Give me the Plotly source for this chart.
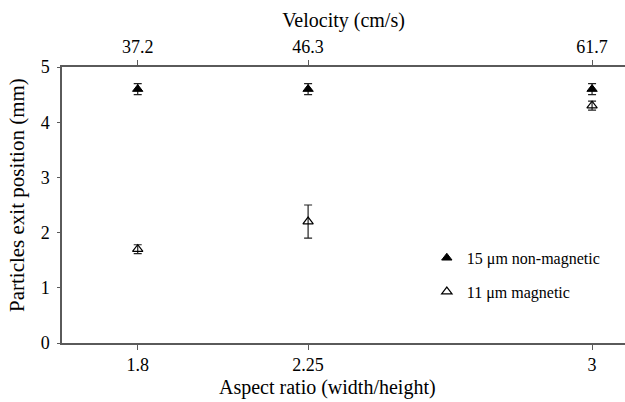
import plotly.graph_objects as go

# Channel aspect ratios and the matching mean flow velocities
aspect_ratio = [1.8, 2.25, 3.0]
aspect_labels = ["1.8", "2.25", "3"]
velocity_labels = ["37.2", "46.3", "61.7"]

# Exit positions (mm) with standard deviations
nonmag_15um = [4.6, 4.6, 4.6]
nonmag_15um_err = [0.1, 0.1, 0.1]
mag_11um = [1.7, 2.2, 4.3]
mag_11um_err = [0.08, 0.3, 0.08]

FONT = "'Liberation Serif', 'Times New Roman', serif"
AXIS_COLOR = "#5a5a5a"

fig = go.Figure()

fig.add_trace(go.Scatter(
    x=aspect_ratio, y=nonmag_15um, mode="markers",
    name="15 μm non-magnetic", legendgroup="a",
    marker=dict(symbol="triangle-up", size=9, color="black",
                line=dict(color="black", width=1)),
    error_y=dict(type="data", array=nonmag_15um_err, color="#222222",
                 thickness=1.2, width=4),
))
fig.add_trace(go.Scatter(
    x=aspect_ratio, y=mag_11um, mode="markers",
    name="11 μm magnetic", legendgroup="b",
    marker=dict(symbol="triangle-up-open", size=9, color="black",
                line=dict(color="black", width=1.2)),
    error_y=dict(type="data", array=mag_11um_err, color="#222222",
                 thickness=1.2, width=4),
))

# Invisible trace carrying the top velocity axis
fig.add_trace(go.Scatter(
    x=aspect_ratio, y=nonmag_15um, xaxis="x2", mode="markers",
    marker=dict(opacity=0), showlegend=False, hoverinfo="skip",
))

x_range = [1.6, 3.087]

fig.update_layout(
    width=625, height=402,
    margin=dict(l=62, r=0, t=67, b=59, autoexpand=False),
    paper_bgcolor="white", plot_bgcolor="white",
    font=dict(family=FONT, size=18, color="black"),
    showlegend=True,
    legend=dict(x=0.648, y=0.37, xanchor="left", yanchor="top",
                bgcolor="rgba(0,0,0,0)", font=dict(family=FONT, size=16),
                tracegroupgap=10, itemwidth=30),
    xaxis=dict(
        range=x_range, tickvals=aspect_ratio, ticktext=aspect_labels,
        showgrid=False, zeroline=False,
        showline=True, linecolor=AXIS_COLOR, linewidth=1.5,
        ticks="outside", ticklen=5, tickcolor=AXIS_COLOR,
        tickfont=dict(family=FONT, size=18),
    ),
    xaxis2=dict(
        range=x_range, overlaying="x", side="top",
        tickvals=aspect_ratio, ticktext=velocity_labels,
        showgrid=False, zeroline=False,
        showline=True, linecolor=AXIS_COLOR, linewidth=1.5,
        ticks="outside", ticklen=5, tickcolor=AXIS_COLOR,
        tickfont=dict(family=FONT, size=18),
        title=dict(text="Velocity (cm/s)",
                   font=dict(family=FONT, size=20), standoff=4),
    ),
    yaxis=dict(
        range=[0, 5], dtick=1, showgrid=False, zeroline=False,
        showline=True, linecolor=AXIS_COLOR, linewidth=1.5,
        ticks="outside", ticklen=3, tickcolor=AXIS_COLOR,
        ticklabelstandoff=4,
        tickfont=dict(family=FONT, size=18),
    ),
    annotations=[
        dict(text="Aspect ratio (width/height)", xref="paper", yref="paper",
             x=0.4707, y=-0.162, xanchor="center", yanchor="middle",
             showarrow=False, font=dict(family=FONT, size=20)),
        dict(text="Particles exit position (mm)", xref="paper", yref="paper",
             x=-0.08, y=0.536, xanchor="center", yanchor="middle",
             textangle=-90, showarrow=False, font=dict(family=FONT, size=21)),
    ],
)

fig.write_html("out.html")
